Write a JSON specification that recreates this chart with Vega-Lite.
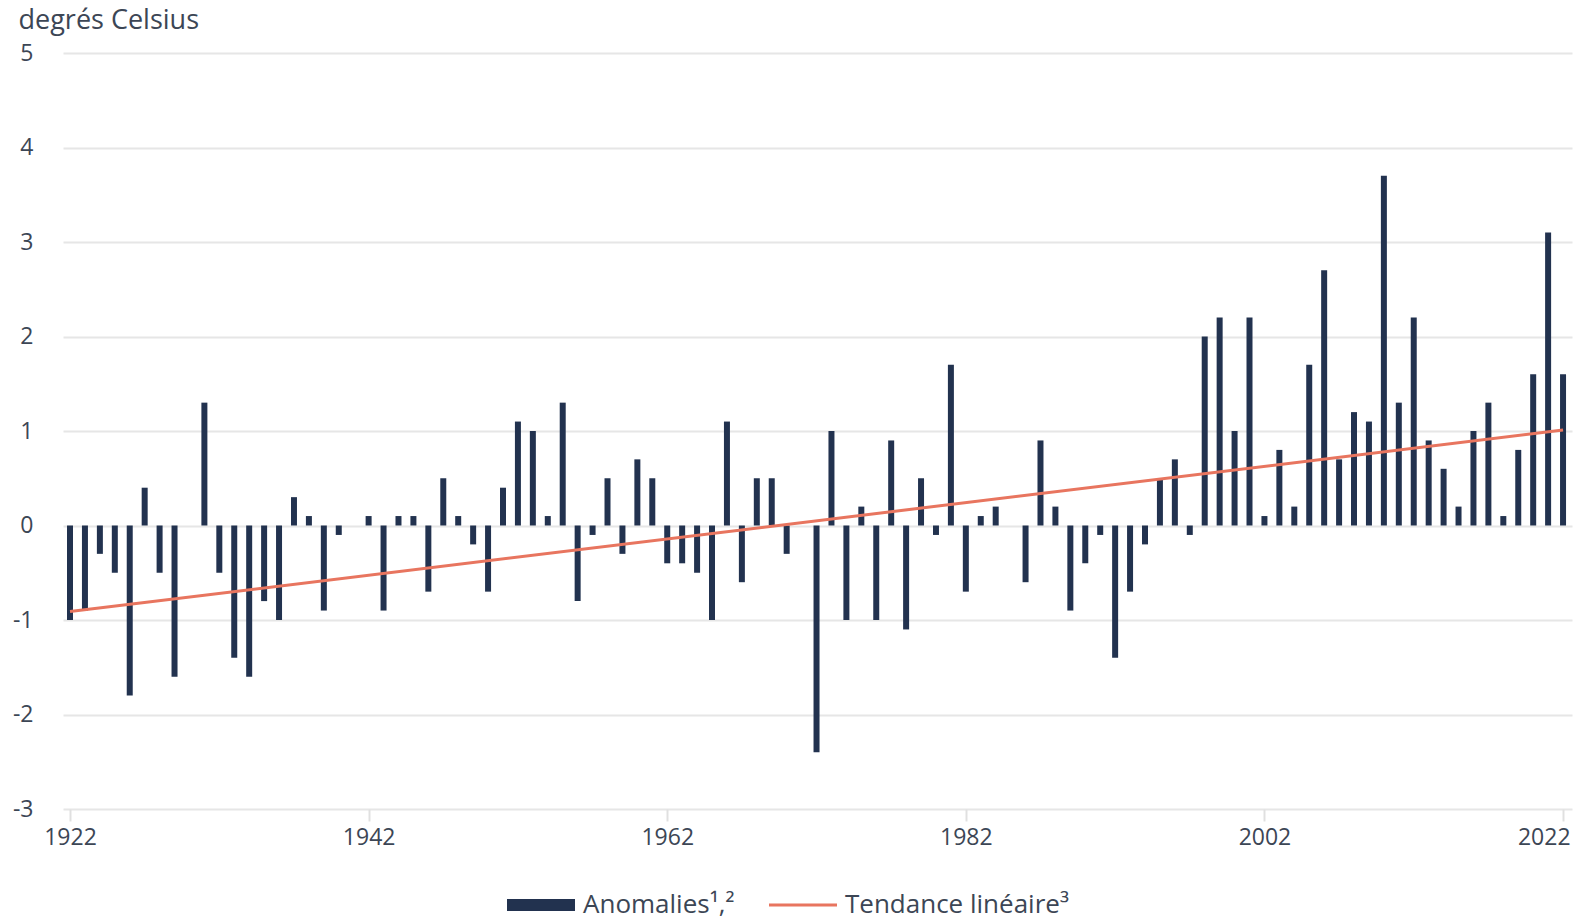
{
  "$schema": "https://vega.github.io/schema/vega-lite/v6.json",
  "autosize": {"type": "none"},
  "width": 1509,
  "height": 756,
  "padding": {"left": 63, "top": 53, "right": 4, "bottom": 113},
  "background": "white",
  "config": {
    "view": {"stroke": null},
    "font": "Open Sans",
    "axis": {"labelFont": "Open Sans", "titleFont": "Open Sans", "labelColor": "#3c4655", "titleColor": "#3c4655"},
    "legend": {"labelFont": "Open Sans"}
  },
  "datasets": {
    "anom": [
      {"year": 1922, "value": -1.0}, {"year": 1923, "value": -0.9}, {"year": 1924, "value": -0.3},
      {"year": 1925, "value": -0.5}, {"year": 1926, "value": -1.8}, {"year": 1927, "value": 0.4},
      {"year": 1928, "value": -0.5}, {"year": 1929, "value": -1.6}, {"year": 1930, "value": 0.0},
      {"year": 1931, "value": 1.3}, {"year": 1932, "value": -0.5}, {"year": 1933, "value": -1.4},
      {"year": 1934, "value": -1.6}, {"year": 1935, "value": -0.8}, {"year": 1936, "value": -1.0},
      {"year": 1937, "value": 0.3}, {"year": 1938, "value": 0.1}, {"year": 1939, "value": -0.9},
      {"year": 1940, "value": -0.1}, {"year": 1941, "value": 0.0}, {"year": 1942, "value": 0.1},
      {"year": 1943, "value": -0.9}, {"year": 1944, "value": 0.1}, {"year": 1945, "value": 0.1},
      {"year": 1946, "value": -0.7}, {"year": 1947, "value": 0.5}, {"year": 1948, "value": 0.1},
      {"year": 1949, "value": -0.2}, {"year": 1950, "value": -0.7}, {"year": 1951, "value": 0.4},
      {"year": 1952, "value": 1.1}, {"year": 1953, "value": 1.0}, {"year": 1954, "value": 0.1},
      {"year": 1955, "value": 1.3}, {"year": 1956, "value": -0.8}, {"year": 1957, "value": -0.1},
      {"year": 1958, "value": 0.5}, {"year": 1959, "value": -0.3}, {"year": 1960, "value": 0.7},
      {"year": 1961, "value": 0.5}, {"year": 1962, "value": -0.4}, {"year": 1963, "value": -0.4},
      {"year": 1964, "value": -0.5}, {"year": 1965, "value": -1.0}, {"year": 1966, "value": 1.1},
      {"year": 1967, "value": -0.6}, {"year": 1968, "value": 0.5}, {"year": 1969, "value": 0.5},
      {"year": 1970, "value": -0.3}, {"year": 1971, "value": 0.0}, {"year": 1972, "value": -2.4},
      {"year": 1973, "value": 1.0}, {"year": 1974, "value": -1.0}, {"year": 1975, "value": 0.2},
      {"year": 1976, "value": -1.0}, {"year": 1977, "value": 0.9}, {"year": 1978, "value": -1.1},
      {"year": 1979, "value": 0.5}, {"year": 1980, "value": -0.1}, {"year": 1981, "value": 1.7},
      {"year": 1982, "value": -0.7}, {"year": 1983, "value": 0.1}, {"year": 1984, "value": 0.2},
      {"year": 1985, "value": 0.0}, {"year": 1986, "value": -0.6}, {"year": 1987, "value": 0.9},
      {"year": 1988, "value": 0.2}, {"year": 1989, "value": -0.9}, {"year": 1990, "value": -0.4},
      {"year": 1991, "value": -0.1}, {"year": 1992, "value": -1.4}, {"year": 1993, "value": -0.7},
      {"year": 1994, "value": -0.2}, {"year": 1995, "value": 0.5}, {"year": 1996, "value": 0.7},
      {"year": 1997, "value": -0.1}, {"year": 1998, "value": 2.0}, {"year": 1999, "value": 2.2},
      {"year": 2000, "value": 1.0}, {"year": 2001, "value": 2.2}, {"year": 2002, "value": 0.1},
      {"year": 2003, "value": 0.8}, {"year": 2004, "value": 0.2}, {"year": 2005, "value": 1.7},
      {"year": 2006, "value": 2.7}, {"year": 2007, "value": 0.7}, {"year": 2008, "value": 1.2},
      {"year": 2009, "value": 1.1}, {"year": 2010, "value": 3.7}, {"year": 2011, "value": 1.3},
      {"year": 2012, "value": 2.2}, {"year": 2013, "value": 0.9}, {"year": 2014, "value": 0.6},
      {"year": 2015, "value": 0.2}, {"year": 2016, "value": 1.0}, {"year": 2017, "value": 1.3},
      {"year": 2018, "value": 0.1}, {"year": 2019, "value": 0.8}, {"year": 2020, "value": 1.6},
      {"year": 2021, "value": 3.1}, {"year": 2022, "value": 1.6}
    ],
    "trend": [
      {"year": 1922, "trend": -0.91},
      {"year": 2022, "trend": 1.01}
    ]
  },
  "encoding": {
    "x": {
      "field": "year",
      "type": "quantitative",
      "scale": {"domain": [1921.53, 2022.6], "nice": false, "zero": false, "padding": 0},
      "axis": {
        "title": null,
        "values": [1922, 1942, 1962, 1982, 2002, 2022],
        "format": "d",
        "grid": false,
        "domain": false,
        "ticks": true,
        "tickSize": 12,
        "tickColor": "#e0e0e0",
        "tickWidth": 2,
        "labelFontSize": 23,
        "labelPadding": 5,
        "labelAlign": {"condition": {"test": "datum.value == 2022", "value": "right"}, "value": "center"},
        "labelOffset": {"condition": {"test": "datum.value == 2022", "value": 7}, "value": 0}
      }
    }
  },
  "layer": [
    {
      "data": {"name": "anom"},
      "mark": {"type": "bar", "size": 6, "color": "#22324f"},
      "encoding": {
        "y": {
          "field": "value",
          "type": "quantitative",
          "scale": {"domain": [-3, 5], "nice": false, "padding": 0},
          "axis": {
            "title": "degrés Celsius",
            "titleAngle": 0,
            "titleAlign": "left",
            "titleBaseline": "alphabetic",
            "titleX": -45,
            "titleY": -25,
            "titleFontSize": 27,
            "titleFontWeight": "normal",
            "values": [-3, -2, -1, 0, 1, 2, 3, 4, 5],
            "labelExpr": "'' + datum.value",
            "labelFontSize": 23,
            "labelPadding": 30,
            "labelAlign": "right",
            "labelBaseline": "middle",
            "ticks": false,
            "domain": false,
            "grid": true,
            "gridColor": "#e6e6e6",
            "gridWidth": 2
          }
        },
        "color": {
          "datum": "Anomalies¹,²",
          "type": "nominal",
          "scale": {"domain": ["Anomalies¹,²", "Tendance linéaire³"], "range": ["#22324f", "#e8755f"]},
          "legend": {
            "title": null,
            "orient": "none",
            "direction": "horizontal",
            "legendX": 444,
            "legendY": 818,
            "symbolType": "M-1,-0.176H1V0.176H-1Z",
            "symbolSize": 4624,
            "symbolStrokeWidth": 0,
            "labelFontSize": 26,
            "labelLimit": 600,
            "labelColor": "#3c4655",
            "labelOffset": 8,
            "columnPadding": 34,
            "encode": {
              "symbols": {
                "update": {
                  "shape": {"signal": "datum.index === 0 ? 'M-1,-0.176H1V0.176H-1Z' : 'M-1,-0.044H1V0.044H-1Z'"},
                  "fill": {"scale": "color", "field": "value"},
                  "strokeWidth": {"value": 0},
                  "opacity": {"value": 1}
                }
              }
            }
          }
        }
      }
    },
    {
      "data": {"name": "trend"},
      "mark": {"type": "line", "strokeWidth": 3},
      "encoding": {
        "y": {"field": "trend", "type": "quantitative"},
        "color": {"datum": "Tendance linéaire³", "type": "nominal"}
      }
    }
  ]
}
